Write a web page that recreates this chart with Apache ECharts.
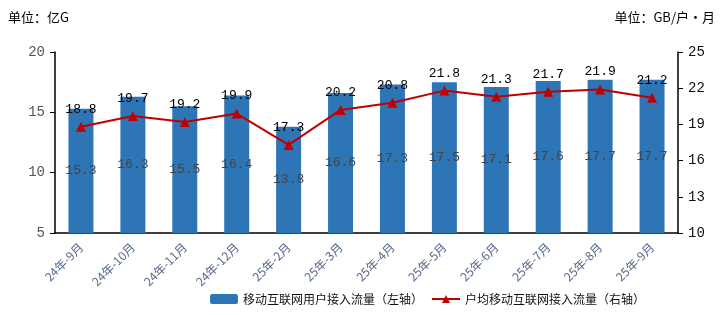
<!DOCTYPE html>
<html>
<head>
<meta charset="utf-8">
<script src="https://cdn.jsdelivr.net/npm/echarts@6/dist/echarts.min.js"></script>
<style>
  html, body { margin: 0; padding: 0; background: #fff; }
  #chart { width: 722px; height: 315px; }
</style>
</head>
<body>
<div id="chart"></div>
<script>
// 月份
var categories = ['24年-9月', '24年-10月', '24年-11月', '24年-12月', '25年-2月', '25年-3月',
  '25年-4月', '25年-5月', '25年-6月', '25年-7月', '25年-8月', '25年-9月'];
// 移动互联网用户接入流量（左轴，亿G）
var trafficValues = [15.3, 16.3, 15.5, 16.4, 13.8, 16.6, 17.3, 17.5, 17.1, 17.6, 17.7, 17.7];
// 户均移动互联网接入流量（右轴，GB/户・月）
var perUserValues = [18.8, 19.7, 19.2, 19.9, 17.3, 20.2, 20.8, 21.8, 21.3, 21.7, 21.9, 21.2];
var leftTicks = { min: 5, max: 20, interval: 5 };
var rightTicks = { min: 10, max: 25, interval: 3 };

var numFont = '"Liberation Mono", "DejaVu Sans Mono", monospace';
var cnFont = '"Noto Sans CJK SC", sans-serif';

var myChart = echarts.init(document.getElementById('chart'));
var option = {
  animation: false,
  textStyle: { fontFamily: cnFont },
  title: [
    { text: '单位：亿G', left: 3, top: 6, textStyle: { fontSize: 13, fontWeight: 'normal', color: '#000', fontFamily: cnFont } },
    { text: '单位：GB/户・月', right: 2, top: 6, textStyle: { fontSize: 13, fontWeight: 'normal', color: '#000', fontFamily: cnFont } }
  ],
  grid: { left: 55, right: 44, top: 52, bottom: 82 },
  legend: {
    bottom: 5,
    left: 205,
    itemWidth: 28,
    itemHeight: 10,
    itemGap: 8,
    textStyle: { fontSize: 12, color: '#111', fontFamily: cnFont },
    data: ['移动互联网用户接入流量（左轴）', '户均移动互联网接入流量（右轴）']
  },
  xAxis: {
    type: 'category',
    data: categories,
    axisLine: { lineStyle: { color: '#000', width: 1.5 } },
    axisTick: { show: false },
    axisLabel: { interval: 0, rotate: 45, margin: 12, fontSize: 12, color: '#56698c', fontFamily: cnFont }
  },
  yAxis: [
    {
      type: 'value',
      min: leftTicks.min, max: leftTicks.max, interval: leftTicks.interval,
      axisLine: { show: true, lineStyle: { color: '#000', width: 1.5 } },
      axisTick: { show: true, length: 5, lineStyle: { color: '#000' } },
      axisLabel: { fontSize: 14, color: '#555', margin: 10, fontFamily: numFont },
      splitLine: { show: false }
    },
    {
      type: 'value',
      min: rightTicks.min, max: rightTicks.max, interval: rightTicks.interval,
      axisLine: { show: true, lineStyle: { color: '#000', width: 1.5 } },
      axisTick: { show: true, length: 5, lineStyle: { color: '#000' } },
      axisLabel: { fontSize: 14, color: '#111', margin: 10, fontFamily: numFont },
      splitLine: { show: false }
    }
  ],
  series: [
    {
      name: '移动互联网用户接入流量（左轴）',
      type: 'bar',
      yAxisIndex: 0,
      barWidth: 25,
      data: trafficValues,
      itemStyle: { color: '#2E75B6' },
      label: { show: true, position: 'inside', fontSize: 13, color: '#444', fontFamily: numFont }
    },
    {
      name: '户均移动互联网接入流量（右轴）',
      type: 'line',
      yAxisIndex: 1,
      data: perUserValues,
      symbol: 'triangle',
      symbolSize: 10,
      lineStyle: { color: '#C00000', width: 2 },
      itemStyle: { color: '#C00000' },
      label: { show: true, position: 'top', distance: 6, fontSize: 13, color: '#000', fontFamily: numFont }
    }
  ]
};
myChart.setOption(option);
</script>
</body>
</html>
